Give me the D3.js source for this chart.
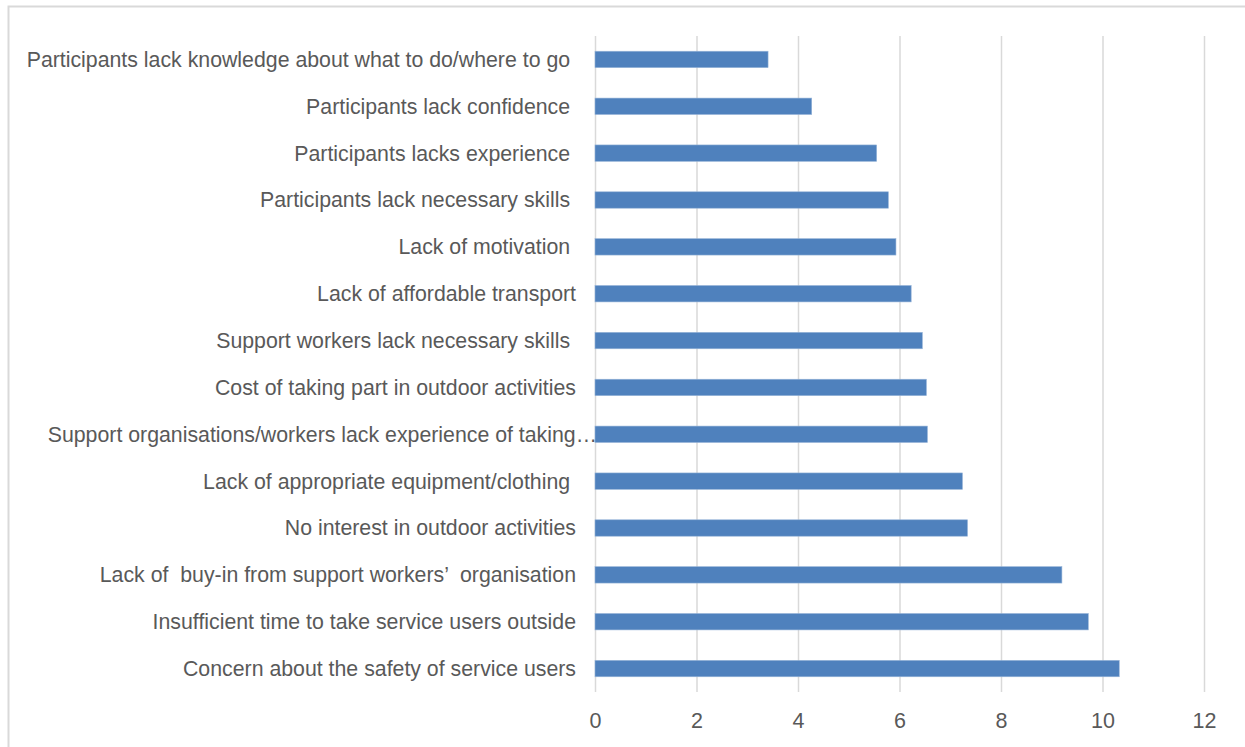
<!DOCTYPE html>
<html><head><meta charset="utf-8">
<script src="https://cdn.jsdelivr.net/npm/d3@7"></script>
<style>
html,body{margin:0;padding:0;background:#fff;}
svg text{font-family:"Liberation Sans",Arial,Helvetica,sans-serif;white-space:pre;}
</style></head>
<body>
<svg id="chart" width="1245" height="747"></svg>
<script>
const categories = [
  "Participants lack knowledge about what to do/where to go ",
  "Participants lack confidence ",
  "Participants lacks experience ",
  "Participants lack necessary skills ",
  "Lack of motivation ",
  "Lack of affordable transport",
  "Support workers lack necessary skills ",
  "Cost of taking part in outdoor activities",
  "Support organisations/workers lack experience of taking…",
  "Lack of appropriate equipment/clothing ",
  "No interest in outdoor activities",
  "Lack of  buy-in from support workers’  organisation",
  "Insufficient time to take service users outside",
  "Concern about the safety of service users"
];
const values = [3.41, 4.27, 5.55, 5.78, 5.93, 6.23, 6.45, 6.53, 6.55, 7.24, 7.34, 9.20, 9.72, 10.33];
const xTicks = [0, 2, 4, 6, 8, 10, 12];

const svg = d3.select("#chart");
const W = 1245, H = 747;
const pLeft = 595, pRight = 1204, pTop = 36, pBottom = 692;

// frame
svg.append("rect").attr("x", 8.5).attr("y", 6.5).attr("width", W).attr("height", H)
  .attr("fill", "none").attr("stroke", "#d9d9d9").attr("stroke-width", 2);

const x = d3.scaleLinear().domain([0, 12]).range([pLeft, pRight]);
const y = d3.scaleBand().domain(categories).range([pTop, pBottom]).paddingInner(0.65).paddingOuter(0.325);

// gridlines
const grid = svg.append("g").attr("transform", `translate(0,${pTop})`)
  .call(d3.axisBottom(x).tickValues(xTicks).tickSize(pBottom - pTop).tickFormat(""));
grid.select(".domain").remove();
grid.selectAll("line").attr("stroke", "#d9d9d9").attr("stroke-width", 1.5);

// bars
svg.append("g").selectAll("rect").data(values).join("rect")
  .attr("x", x(0))
  .attr("y", (d, i) => y(categories[i]))
  .attr("width", d => x(d) - x(0))
  .attr("height", y.bandwidth())
  .attr("fill", "#4f81bd")
  .attr("stroke", "#95b3d7").attr("stroke-width", 0.6);

// x axis labels
const xa = svg.append("g").attr("transform", `translate(0,${pBottom})`)
  .call(d3.axisBottom(x).tickValues(xTicks).tickSize(0).tickPadding(0));
xa.select(".domain").remove();
xa.selectAll("text").attr("fill", "#595959").attr("font-size", 21.5)
  .attr("dy", null).attr("y", 36);

// y axis labels
const ya = svg.append("g").attr("transform", `translate(576,0)`)
  .call(d3.axisLeft(y).tickSize(0).tickPadding(0));
ya.select(".domain").remove();
ya.selectAll("text").attr("fill", "#595959").attr("font-size", 21.3)
  .attr("x", d => d.endsWith("…") ? 21 : 0)
  .attr("dy", "0.35em");
</script>
</body></html>
